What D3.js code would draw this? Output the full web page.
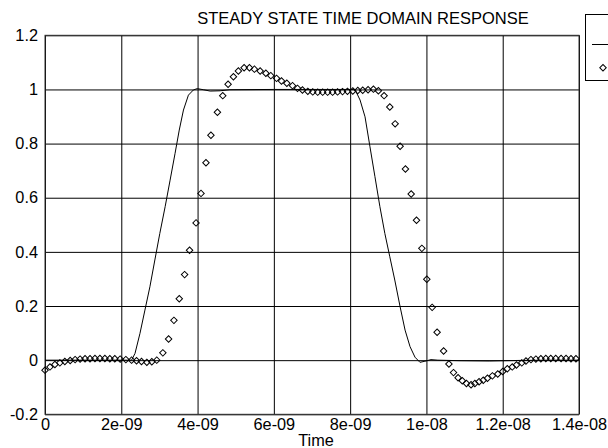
<!DOCTYPE html>
<html>
<head>
<meta charset="utf-8">
<script src="https://cdn.jsdelivr.net/npm/d3@7"></script>
<style>
  body { margin: 0; background: #fff; }
  svg { display: block; font-family: "Liberation Sans", Arial, sans-serif; }
</style>
</head>
<body>
<svg id="chart" width="608" height="448"></svg>
<script>
// time in ns
var lineTime = [0, 2.27, 2.36, 2.49, 2.62, 2.75, 2.88, 3.01, 3.15, 3.28, 3.41, 3.52, 3.63, 3.76, 3.89, 3.99,
  4.15, 4.33, 4.59, 4.85, 6.0, 8.0, 8.13, 8.26, 8.39, 8.52, 8.65, 8.78, 8.91, 9.04, 9.17, 9.31, 9.44,
  9.57, 9.70, 9.83, 9.96, 10.12, 10.30, 10.88, 11.66, 12.45, 13.24, 14.0];
var lineValue = [0, 0, 0.025, 0.099, 0.185, 0.271, 0.370, 0.468, 0.567, 0.665, 0.764, 0.850, 0.924, 0.979, 0.998, 1.003,
  0.999, 0.994, 0.995, 0.999, 1.0, 1.0, 0.999, 0.961, 0.899, 0.788, 0.678, 0.567, 0.468, 0.382, 0.296, 0.197, 0.111,
  0.050, 0.011, -0.008, -0.004, 0.002, 0, -0.002, -0.003, -0.001, 0, 0];

var dotTime = [0, 0.13, 0.26, 0.39, 0.52, 0.66, 0.79, 0.92, 1.05, 1.18, 1.31, 1.44, 1.57, 1.70, 1.83, 1.97,
  2.12, 2.27, 2.40, 2.53, 2.67, 2.80, 2.93, 3.09, 3.24, 3.38, 3.52, 3.66, 3.79, 3.96, 4.09, 4.22, 4.35,
  4.52, 4.66, 4.80, 4.94, 5.07, 5.22, 5.36, 5.49, 5.64, 5.79, 5.92, 6.07, 6.20, 6.34, 6.49, 6.62, 6.75,
  6.89, 7.02, 7.15, 7.28, 7.41, 7.54, 7.67, 7.80, 7.93, 8.07, 8.20, 8.33, 8.47, 8.61, 8.74, 8.89, 9.04,
  9.18, 9.31, 9.45, 9.60, 9.74, 9.88, 10.01, 10.15, 10.28, 10.45, 10.59, 10.71, 10.83, 10.94, 11.05,
  11.17, 11.27, 11.38, 11.49, 11.60, 11.73, 11.87, 12.00, 12.12, 12.25, 12.36, 12.50, 12.61, 12.74,
  12.87, 13.00, 13.13, 13.26, 13.39, 13.53, 13.66, 13.79, 13.92];
var dotValue = [-0.037, -0.025, -0.016, -0.010, -0.005, -0.001, 0.002, 0.004, 0.005, 0.005, 0.006, 0.006, 0.006, 0.005, 0.005, 0.004,
  0.002, 0.000, -0.002, -0.005, -0.008, -0.006, 0.000, 0.027, 0.078, 0.147, 0.227, 0.316, 0.406, 0.507, 0.616, 0.729, 0.831,
  0.916, 0.977, 1.019, 1.047, 1.068, 1.080, 1.080, 1.075, 1.068, 1.060, 1.051, 1.041, 1.031, 1.023, 1.014, 1.004, 0.998,
  0.993, 0.991, 0.990, 0.990, 0.990, 0.990, 0.991, 0.992, 0.993, 0.994, 0.996, 0.997, 0.999, 1.001, 0.995, 0.977, 0.935,
  0.873, 0.790, 0.706, 0.614, 0.517, 0.413, 0.299, 0.195, 0.103, 0.034, -0.014, -0.046, -0.065, -0.076, -0.086,
  -0.091, -0.086, -0.080, -0.074, -0.067, -0.058, -0.051, -0.042, -0.032, -0.025, -0.018, -0.010, -0.003, 0.002,
  0.004, 0.005, 0.006, 0.006, 0.006, 0.006, 0.006, 0.005, 0.005];

var xTicks = [0, 2, 4, 6, 8, 10, 12, 14];
var xTickLabels = ["0", "2e-09", "4e-09", "6e-09", "8e-09", "1e-08", "1.2e-08", "1.4e-08"];
var yTicks = [-0.2, 0, 0.2, 0.4, 0.6, 0.8, 1, 1.2];
var yTickLabels = ["-0.2", "0", "0.2", "0.4", "0.6", "0.8", "1", "1.2"];

var titleText = "STEADY STATE TIME DOMAIN RESPONSE";
var xTitle = "Time";

// layout
var margin_l = 45, margin_r = 29, margin_t = 35.3, margin_b = 33.7;
var W = 608, H = 448;

var svg = d3.select("#chart");

var xScale = d3.scaleLinear()
  .domain([0, 14])
  .range([margin_l, W - margin_r]);

var yScale = d3.scaleLinear()
  .domain([-0.2, 1.2])
  .range([H - margin_b, margin_t]);

var plotW = W - margin_l - margin_r;
var plotH = H - margin_t - margin_b;

// x axis with grid
var gx = svg.append("g")
  .attr("transform", "translate(0," + (H - margin_b) + ")")
  .call(d3.axisBottom(xScale)
    .tickValues(xTicks)
    .tickSizeInner(-plotH)
    .tickSizeOuter(0)
    .tickPadding(4)
    .tickFormat(function(d, i) { return xTickLabels[i]; }));
gx.select(".domain").remove();
gx.selectAll("line").attr("stroke", "#000");
gx.selectAll("text").attr("fill", "#000").style("font-size", "16.3px");

// y axis with grid
var gy = svg.append("g")
  .attr("transform", "translate(" + margin_l + ",0)")
  .call(d3.axisLeft(yScale)
    .tickValues(yTicks)
    .tickSizeInner(-plotW)
    .tickSizeOuter(0)
    .tickPadding(7)
    .tickFormat(function(d, i) { return yTickLabels[i]; }));
gy.select(".domain").remove();
gy.selectAll("line").attr("stroke", "#000");
gy.selectAll("text").attr("fill", "#000").style("font-size", "16.3px");

// frame
svg.append("rect")
  .attr("x", margin_l)
  .attr("y", margin_t)
  .attr("width", plotW)
  .attr("height", plotH)
  .attr("fill", "none")
  .attr("stroke", "#333")
  .attr("stroke-width", 1);

// solid trace
var line = d3.line()
  .x(function(d, i) { return xScale(lineTime[i]); })
  .y(function(d) { return yScale(d); });

svg.append("path")
  .datum(lineValue)
  .attr("d", line)
  .attr("fill", "none")
  .attr("stroke", "#000")
  .attr("stroke-width", 1);

// diamonds
var diamond = d3.symbol().type(d3.symbolSquare).size(21);

svg.append("g").selectAll("path")
  .data(dotValue)
  .enter().append("path")
  .attr("d", diamond)
  .attr("transform", function(d, i) {
    return "translate(" + xScale(dotTime[i]) + "," + yScale(d) + ") rotate(45)";
  })
  .attr("fill", "none")
  .attr("stroke", "#000")
  .attr("stroke-width", 1);

// title
svg.append("text")
  .attr("x", 363)
  .attr("y", 24)
  .attr("text-anchor", "middle")
  .style("font-size", "16.5px")
  .text(titleText);

// x label
svg.append("text")
  .attr("x", 316)
  .attr("y", 446)
  .attr("text-anchor", "middle")
  .style("font-size", "16.3px")
  .text(xTitle);

// legend (clipped at right edge)
var lg = svg.append("g");
lg.append("rect")
  .attr("x", 585.5)
  .attr("y", 14.5)
  .attr("width", 40)
  .attr("height", 66)
  .attr("fill", "#fff")
  .attr("stroke", "#000");
lg.append("line")
  .attr("x1", 592).attr("x2", 608)
  .attr("y1", 44.5).attr("y2", 44.5)
  .attr("stroke", "#000");
lg.append("path")
  .attr("d", diamond)
  .attr("transform", "translate(603,67.7) rotate(45)")
  .attr("fill", "none")
  .attr("stroke", "#000");
</script>
</body>
</html>
